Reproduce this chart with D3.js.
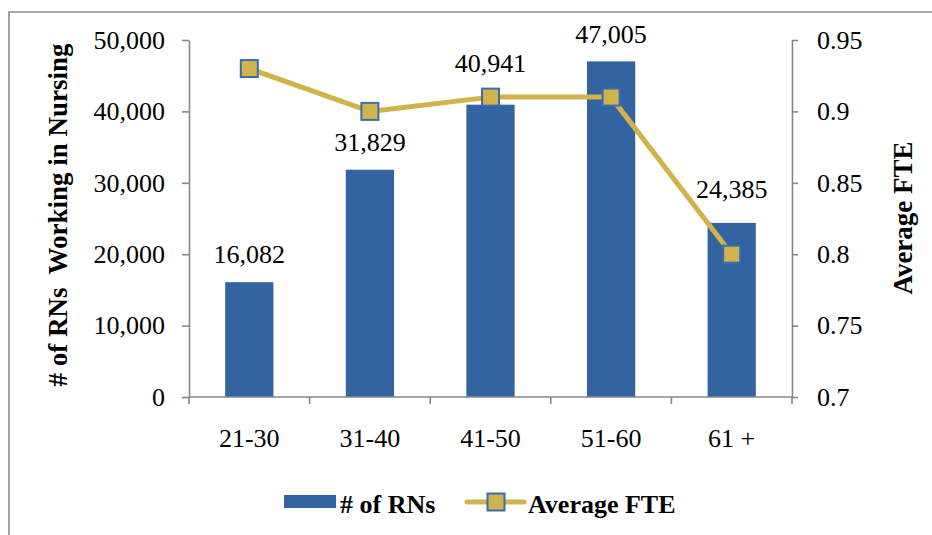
<!DOCTYPE html>
<html>
<head>
<meta charset="utf-8">
<script src="https://cdn.jsdelivr.net/npm/d3@7"></script>
<style>
  html, body { margin: 0; padding: 0; background: #fff; }
  #chart text { font-family: 'Liberation Serif', 'Times New Roman', Times, serif !important; fill: #000; }
</style>
</head>
<body>
<svg id="chart" width="932" height="535"></svg>
<script>
// Registered nurses by age group, with average FTE per group
const ageGroups = ["21-30", "31-40", "41-50", "51-60", "61 +"];
const rnCounts = [16082, 31829, 40941, 47005, 24385];
const avgFte = [0.93, 0.90, 0.91, 0.91, 0.80];
const countTicks = [0, 10000, 20000, 30000, 40000, 50000];
const fteTicks = [0.7, 0.75, 0.8, 0.85, 0.9, 0.95];
// extra lift of each value label above its bar, in px
const labelLift = [19, 19, 33, 18, 25];

const BAR = "#3164a1";
const GOLD = "#d2b24b";
const AXIS = "#878787";
const SERIF = "'Liberation Serif', 'Times New Roman', Times, serif";

const svg = d3.select("#chart");

// outer frame
svg.append("path")
  .attr("d", "M9,540 V12 H940")
  .attr("fill", "none").attr("stroke", "#8c8c8c").attr("stroke-width", 1.6);

const plotL = 189, plotR = 792, plotT = 40, plotB = 397;

const x = d3.scaleBand().domain(ageGroups).range([plotL, plotR]).padding(0);
const yL = d3.scaleLinear().domain([0, 50000]).range([plotB, plotT]);
const yR = d3.scaleLinear().domain([0.7, 0.95]).range([plotB, plotT]);
const fmt = d3.format(",");

// bars
const barW = x.bandwidth() * 0.4;
svg.append("g").selectAll("rect").data(rnCounts).join("rect")
  .attr("x", (d, i) => x(ageGroups[i]) + (x.bandwidth() - barW) / 2)
  .attr("y", d => yL(d))
  .attr("width", barW)
  .attr("height", d => yL(0) - yL(d))
  .attr("fill", BAR);

// left axis
const gL = svg.append("g").attr("transform", `translate(${plotL},0)`)
  .call(d3.axisLeft(yL).tickValues(countTicks).tickFormat(fmt).tickSize(7).tickSizeOuter(0).tickPadding(17));
// right axis
const gR = svg.append("g").attr("transform", `translate(${plotR},0)`)
  .call(d3.axisRight(yR).tickValues(fteTicks).tickFormat(d => String(+d.toFixed(2))).tickSize(6).tickSizeOuter(0).tickPadding(19));

[gL, gR].forEach(g => {
  g.attr("font-family", SERIF).attr("font-size", 26);
  g.select(".domain").attr("stroke", AXIS).attr("stroke-width", 1.6);
  g.selectAll(".tick line").attr("stroke", AXIS).attr("stroke-width", 1.6);
  g.selectAll(".tick text").attr("font-family", SERIF).attr("font-size", 26).attr("fill", "#000");
});

// bottom axis with ticks on category boundaries
const gB = svg.append("g");
gB.append("line").attr("x1", plotL).attr("x2", plotR).attr("y1", plotB).attr("y2", plotB)
  .attr("stroke", AXIS).attr("stroke-width", 1.6);
const bounds = ageGroups.map(c => x(c)).concat([plotR]);
gB.selectAll("line.tk").data(bounds).join("line").attr("class", "tk")
  .attr("x1", d => d).attr("x2", d => d).attr("y1", plotB).attr("y2", plotB + 7)
  .attr("stroke", AXIS).attr("stroke-width", 1.6);
gB.selectAll("text").data(ageGroups).join("text")
  .attr("x", d => x(d) + x.bandwidth() / 2)
  .attr("y", 447)
  .attr("text-anchor", "middle")
  .attr("font-family", SERIF).attr("font-size", 26)
  .text(d => d);

// value labels
svg.append("g").selectAll("text").data(rnCounts).join("text")
  .attr("x", (d, i) => x(ageGroups[i]) + x.bandwidth() / 2)
  .attr("y", (d, i) => yL(d) - labelLift[i])
  .attr("text-anchor", "middle")
  .attr("font-family", SERIF).attr("font-size", 26)
  .text(d => fmt(d));

// FTE line with square markers
const cx = i => x(ageGroups[i]) + x.bandwidth() / 2;
const line = d3.line().x((d, i) => cx(i)).y(d => yR(d));
svg.append("path").datum(avgFte)
  .attr("d", line).attr("fill", "none")
  .attr("stroke", GOLD).attr("stroke-width", 5).attr("stroke-linejoin", "round");
const MS = 17;
svg.append("g").selectAll("rect").data(avgFte).join("rect")
  .attr("x", (d, i) => cx(i) - MS / 2)
  .attr("y", d => yR(d) - MS / 2)
  .attr("width", MS).attr("height", MS)
  .attr("fill", GOLD).attr("stroke", "#3a6db0").attr("stroke-width", 2);

// axis titles
svg.append("text")
  .attr("transform", "translate(67,215) rotate(-90)")
  .attr("text-anchor", "middle")
  .attr("font-family", SERIF).attr("font-size", 27).attr("font-weight", "bold")
  .style("white-space", "pre")
  .text("# of RNs  Working in Nursing");
svg.append("text")
  .attr("transform", "translate(912,218) rotate(-90)")
  .attr("text-anchor", "middle")
  .attr("font-family", SERIF).attr("font-size", 27).attr("font-weight", "bold")
  .text("Average FTE");

// legend
const lg = svg.append("g").attr("font-family", SERIF).attr("font-size", 26).attr("font-weight", "bold");
lg.append("rect").attr("x", 284).attr("y", 495).attr("width", 52).attr("height", 13).attr("fill", BAR);
lg.append("text").attr("x", 340).attr("y", 513).text("# of RNs");
lg.append("line").attr("x1", 467).attr("x2", 524).attr("y1", 502).attr("y2", 502)
  .attr("stroke", GOLD).attr("stroke-width", 5).attr("stroke-linecap", "round");
lg.append("rect").attr("x", 496 - MS / 2).attr("y", 502 - MS / 2).attr("width", MS).attr("height", MS)
  .attr("fill", GOLD).attr("stroke", "#3a6db0").attr("stroke-width", 2);
lg.append("text").attr("x", 528).attr("y", 513).text("Average FTE");
</script>
</body>
</html>
